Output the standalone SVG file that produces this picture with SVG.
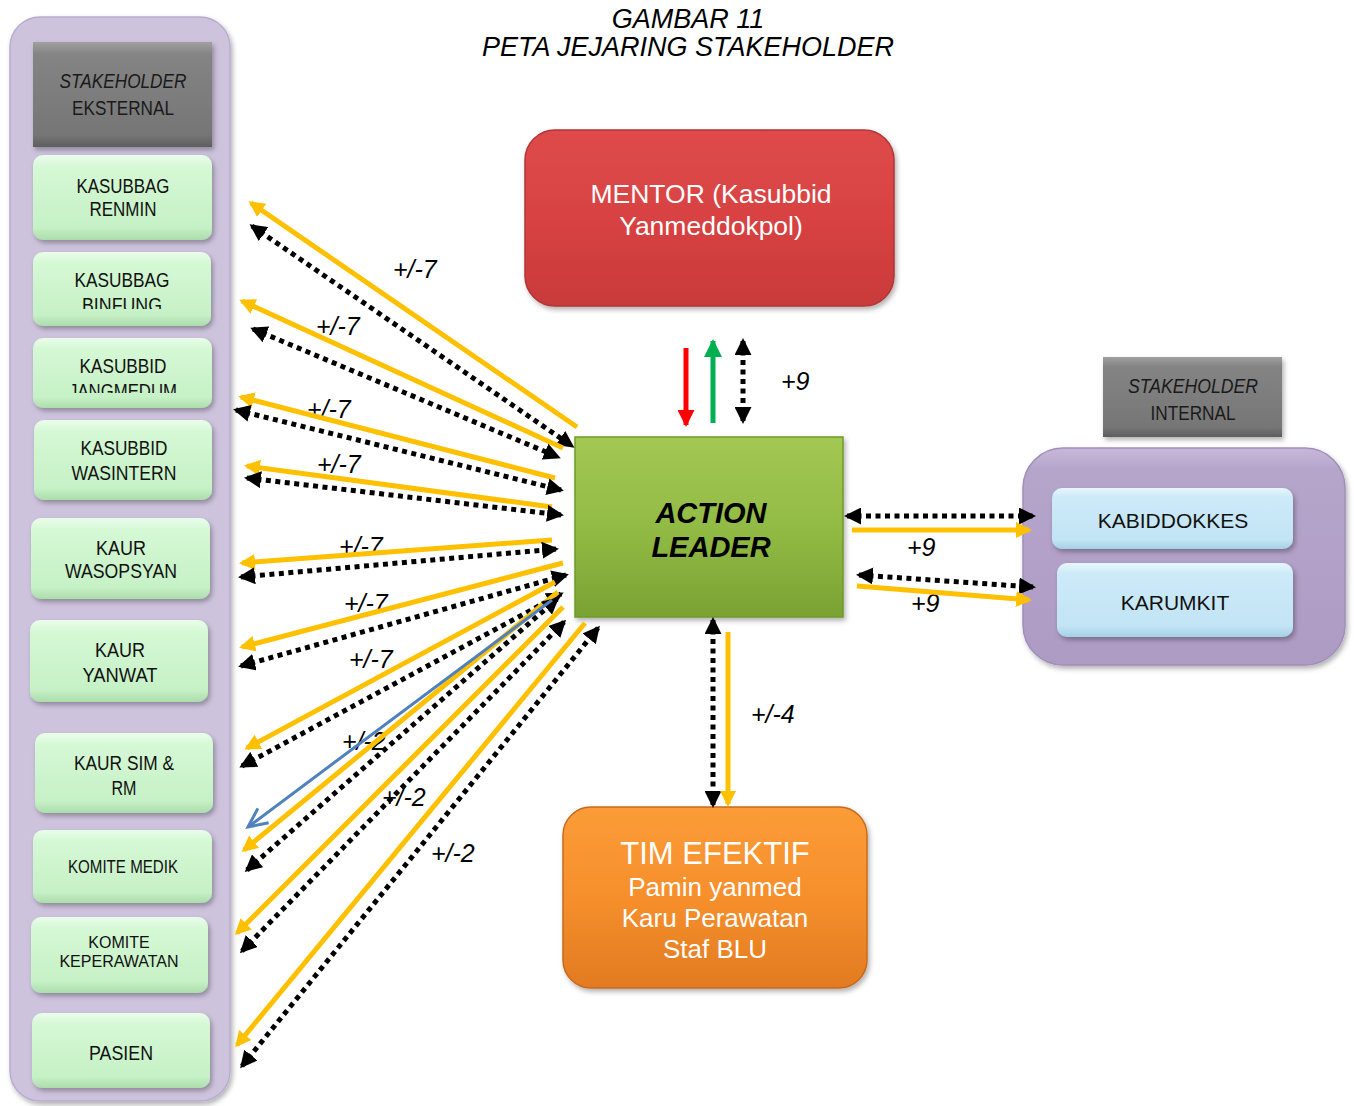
<svg xmlns="http://www.w3.org/2000/svg" width="1354" height="1106" viewBox="0 0 1354 1106">
<style>
.nt{font-family:"Liberation Sans Narrow","Liberation Sans",Arial,sans-serif;font-size:21px;fill:#111;text-anchor:middle}
.ht{font-family:"Liberation Sans Narrow","Liberation Sans",Arial,sans-serif;font-size:20px;fill:#1a1a1a;text-anchor:middle}
.rt{font-family:"Liberation Sans",Arial,sans-serif;font-size:21px;fill:#111;text-anchor:middle}
.wt{font-family:"Liberation Sans",Arial,sans-serif;fill:#fff;text-anchor:middle}
.lb{font-family:"Liberation Sans",Arial,sans-serif;font-size:25px;font-style:italic;fill:#000}
.title{font-family:"Liberation Sans",Arial,sans-serif;font-size:27px;font-style:italic;fill:#000;text-anchor:middle}
.gn{fill:url(#gGreen);filter:url(#sh)}
.gh{fill:url(#gGray);filter:url(#sh)}
.bn{fill:url(#gBlue);filter:url(#sh)}
.y{stroke:#ffc000;stroke-width:5;fill:none;marker-end:url(#hy)}
.d{stroke:#000;stroke-width:5;stroke-dasharray:5 4.5;fill:none;marker-start:url(#hb);marker-end:url(#hb)}
</style>
<defs>
<filter id="sh" x="-10%" y="-10%" width="130%" height="130%"><feDropShadow dx="2" dy="3" stdDeviation="2.5" flood-color="#000" flood-opacity="0.3"/></filter>
<linearGradient id="gGreen" x1="0" y1="0" x2="0" y2="1"><stop offset="0" stop-color="#eafdea"/><stop offset="0.15" stop-color="#d5f8d5"/><stop offset="0.85" stop-color="#c6f1c6"/><stop offset="1" stop-color="#acdcac"/></linearGradient>
<linearGradient id="gGray" x1="0" y1="0" x2="0" y2="1"><stop offset="0" stop-color="#a0a0a0"/><stop offset="0.12" stop-color="#848484"/><stop offset="0.88" stop-color="#767676"/><stop offset="1" stop-color="#5e5e5e"/></linearGradient>
<linearGradient id="gBlue" x1="0" y1="0" x2="0" y2="1"><stop offset="0" stop-color="#e6f6fd"/><stop offset="0.15" stop-color="#cdeaf8"/><stop offset="0.85" stop-color="#c2e4f5"/><stop offset="1" stop-color="#a6d0e6"/></linearGradient>
<linearGradient id="gPurp" x1="0" y1="0" x2="0" y2="1"><stop offset="0" stop-color="#c7b8da"/><stop offset="0.1" stop-color="#b6a5cb"/><stop offset="1" stop-color="#ad9bc4"/></linearGradient>
<linearGradient id="gRed" x1="0" y1="0" x2="0" y2="1"><stop offset="0" stop-color="#de4b4b"/><stop offset="0.5" stop-color="#d84242"/><stop offset="1" stop-color="#c93a3a"/></linearGradient>
<linearGradient id="gAL" x1="0" y1="0" x2="0" y2="1"><stop offset="0" stop-color="#a3c853"/><stop offset="0.5" stop-color="#92bb45"/><stop offset="1" stop-color="#7aa233"/></linearGradient>
<linearGradient id="gOr" x1="0" y1="0" x2="0" y2="1"><stop offset="0" stop-color="#fb9c38"/><stop offset="0.5" stop-color="#f68f2c"/><stop offset="1" stop-color="#e27a22"/></linearGradient>
<marker id="hy" markerUnits="userSpaceOnUse" markerWidth="16" markerHeight="16" viewBox="0 0 16 16" refX="13" refY="8" orient="auto-start-reverse"><path d="M0,0 L16,8 L0,16 z" fill="#ffc000"/></marker>
<marker id="hb" markerUnits="userSpaceOnUse" markerWidth="17" markerHeight="17" viewBox="0 0 17 17" refX="14" refY="8.5" orient="auto-start-reverse"><path d="M0,0 L17,8.5 L0,17 z" fill="#000"/></marker>
<marker id="hr" markerUnits="userSpaceOnUse" markerWidth="17" markerHeight="17" viewBox="0 0 17 17" refX="15" refY="8.5" orient="auto"><path d="M0,0 L17,8.5 L0,17 z" fill="#ff0000"/></marker>
<marker id="hg" markerUnits="userSpaceOnUse" markerWidth="18" markerHeight="18" viewBox="0 0 18 18" refX="16" refY="9" orient="auto"><path d="M0,0 L18,9 L0,18 z" fill="#00b050"/></marker>
<marker id="hbl" markerUnits="userSpaceOnUse" markerWidth="24" markerHeight="22" viewBox="-21 -11 24 22" refX="0" refY="0" orient="auto"><path d="M-19,-9 L0,0 L-19,9" fill="none" stroke="#4f81bd" stroke-width="3"/></marker>
<clipPath id="c2"><rect x="30" y="250" width="185" height="59"/></clipPath>
<clipPath id="c3"><rect x="30" y="335" width="185" height="58"/></clipPath>
</defs>
<rect width="1354" height="1106" fill="#fff"/>

<g id="title">
<text class="title" x="688" y="28">GAMBAR 11</text>
<text class="title" x="688" y="56">PETA JEJARING STAKEHOLDER</text>
</g>

<g id="ext-container">
<rect x="10" y="17" width="220" height="1084" rx="30" fill="#cdc3dd" stroke="#b9acd0" stroke-width="1.5" filter="url(#sh)"/>
</g>
<g id="ext-header">
<rect class="gh" x="33" y="42" width="179" height="105"/>
<text class="ht" x="123" y="88" font-style="italic" textLength="127" lengthAdjust="spacingAndGlyphs">STAKEHOLDER</text>
<text class="ht" x="123" y="115" textLength="102" lengthAdjust="spacingAndGlyphs">EKSTERNAL</text>
</g>
<g id="n-renmin">
<rect class="gn" x="33" y="155" width="179" height="85" rx="10"/>
<text class="nt" x="123" y="193" textLength="93" lengthAdjust="spacingAndGlyphs">KASUBBAG</text>
<text class="nt" x="123" y="216" textLength="67" lengthAdjust="spacingAndGlyphs">RENMIN</text>
</g>
<g id="n-binfung">
<rect class="gn" x="33" y="252" width="178" height="74" rx="10"/>
<g clip-path="url(#c2)">
<text class="nt" x="122" y="287" textLength="95" lengthAdjust="spacingAndGlyphs">KASUBBAG</text>
<text class="nt" x="122" y="312" textLength="80" lengthAdjust="spacingAndGlyphs">BINFUNG</text>
</g>
</g>
<g id="n-jangmedum">
<rect class="gn" x="33" y="338" width="179" height="70" rx="10"/>
<g clip-path="url(#c3)">
<text class="nt" x="123" y="373" textLength="87" lengthAdjust="spacingAndGlyphs">KASUBBID</text>
<text class="nt" x="123" y="398" textLength="108" lengthAdjust="spacingAndGlyphs">JANGMEDUM</text>
</g>
</g>
<g id="n-wasintern">
<rect class="gn" x="34" y="420" width="178" height="80" rx="10"/>
<text class="nt" x="124" y="455" textLength="87" lengthAdjust="spacingAndGlyphs">KASUBBID</text>
<text class="nt" x="124" y="480" textLength="105" lengthAdjust="spacingAndGlyphs">WASINTERN</text>
</g>
<g id="n-wasopsyan">
<rect class="gn" x="31" y="518" width="179" height="81" rx="10"/>
<text class="nt" x="121" y="555" textLength="50" lengthAdjust="spacingAndGlyphs">KAUR</text>
<text class="nt" x="121" y="578" textLength="112" lengthAdjust="spacingAndGlyphs">WASOPSYAN</text>
</g>
<g id="n-yanwat">
<rect class="gn" x="30" y="620" width="178" height="82" rx="10"/>
<text class="nt" x="120" y="657" textLength="50" lengthAdjust="spacingAndGlyphs">KAUR</text>
<text class="nt" x="120" y="682" textLength="75" lengthAdjust="spacingAndGlyphs">YANWAT</text>
</g>
<g id="n-sim">
<rect class="gn" x="35" y="733" width="178" height="80" rx="10"/>
<text class="nt" x="124" y="770" textLength="100" lengthAdjust="spacingAndGlyphs">KAUR SIM &amp;</text>
<text class="nt" x="124" y="795" textLength="25" lengthAdjust="spacingAndGlyphs">RM</text>
</g>
<g id="n-medik">
<rect class="gn" x="33" y="830" width="179" height="73" rx="10"/>
<text class="nt" x="123" y="873" style="font-size:18px" textLength="110" lengthAdjust="spacingAndGlyphs">KOMITE MEDIK</text>
</g>
<g id="n-keperawatan">
<rect class="gn" x="31" y="917" width="177" height="76" rx="10"/>
<text class="rt" x="119" y="948" style="font-size:16px">KOMITE</text>
<text class="rt" x="119" y="967" style="font-size:16px">KEPERAWATAN</text>
</g>
<g id="n-pasien">
<rect class="gn" x="32" y="1013" width="178" height="75" rx="10"/>
<text class="nt" x="121" y="1060" textLength="64" lengthAdjust="spacingAndGlyphs">PASIEN</text>
</g>

<g id="mentor">
<rect x="525" y="130" width="369" height="176" rx="30" fill="url(#gRed)" stroke="#b33535" stroke-width="1.5" filter="url(#sh)"/>
<text class="wt" x="711" y="203" style="font-size:26.5px">MENTOR (Kasubbid</text>
<text class="wt" x="711" y="235" style="font-size:26.5px">Yanmeddokpol)</text>
</g>
<g id="action-leader">
<rect x="575" y="437" width="268" height="180" fill="url(#gAL)" stroke="#6f9a2a" stroke-width="1.5" filter="url(#sh)"/>
<text x="711" y="523" font-family="Liberation Sans,Arial,sans-serif" font-size="29" font-weight="bold" font-style="italic" text-anchor="middle" fill="#000">ACTION</text>
<text x="711" y="557" font-family="Liberation Sans,Arial,sans-serif" font-size="29" font-weight="bold" font-style="italic" text-anchor="middle" fill="#000">LEADER</text>
</g>
<g id="tim-efektif">
<rect x="563" y="807" width="304" height="181" rx="28" fill="url(#gOr)" stroke="#c86b1c" stroke-width="1.5" filter="url(#sh)"/>
<text class="wt" x="715" y="864" style="font-size:31px">TIM EFEKTIF</text>
<text class="wt" x="715" y="896" style="font-size:26px">Pamin yanmed</text>
<text class="wt" x="715" y="927" style="font-size:26px">Karu Perawatan</text>
<text class="wt" x="715" y="958" style="font-size:26px">Staf BLU</text>
</g>

<g id="int-header">
<rect class="gh" x="1103" y="357" width="179" height="80"/>
<text class="ht" x="1193" y="393" font-style="italic" textLength="130" lengthAdjust="spacingAndGlyphs">STAKEHOLDER</text>
<text class="ht" x="1193" y="420" textLength="85" lengthAdjust="spacingAndGlyphs">INTERNAL</text>
</g>
<g id="int-container">
<rect x="1023" y="448" width="322" height="217" rx="40" fill="url(#gPurp)" stroke="#a08fba" stroke-width="1.5" filter="url(#sh)"/>
</g>
<g id="n-kabiddokkes">
<rect class="bn" x="1052" y="488" width="241" height="61" rx="10"/>
<text class="rt" x="1173" y="528">KABIDDOKKES</text>
</g>
<g id="n-karumkit">
<rect class="bn" x="1057" y="563" width="236" height="74" rx="10"/>
<text class="rt" x="1175" y="610">KARUMKIT</text>
</g>

<g id="labels">
<text class="lb" x="393" y="278">+/-7</text>
<text class="lb" x="316" y="335">+/-7</text>
<text class="lb" x="307" y="418">+/-7</text>
<text class="lb" x="317" y="473">+/-7</text>
<text class="lb" x="339" y="555">+/-7</text>
<text class="lb" x="344" y="612">+/-7</text>
<text class="lb" x="349" y="668">+/-7</text>
<text class="lb" x="342" y="750">+/-2</text>
<text class="lb" x="382" y="806">+/-2</text>
<text class="lb" x="431" y="862">+/-2</text>
<text class="lb" x="781" y="390">+9</text>
<text class="lb" x="907" y="556">+9</text>
<text class="lb" x="911" y="612">+9</text>
<text class="lb" x="751" y="723">+/-4</text>
</g>

<g id="connectors">
<line class="y" x1="577" y1="427" x2="251" y2="203"/>
<line class="d" x1="252" y1="226" x2="572" y2="446"/>
<line class="y" x1="563" y1="448" x2="242" y2="301"/>
<line class="d" x1="253" y1="329" x2="558" y2="457"/>
<line class="y" x1="555" y1="478" x2="241" y2="397"/>
<line class="d" x1="236" y1="410" x2="561" y2="490"/>
<line class="y" x1="552" y1="507" x2="247" y2="466"/>
<line class="d" x1="247" y1="478" x2="561" y2="515"/>
<line class="y" x1="552" y1="540" x2="242" y2="563"/>
<line class="d" x1="241" y1="577" x2="556" y2="549"/>
<line class="y" x1="563" y1="563" x2="242" y2="647"/>
<line class="d" x1="241" y1="666" x2="566" y2="575"/>
<line class="y" x1="555" y1="582" x2="247" y2="748"/>
<line class="d" x1="242" y1="766" x2="561" y2="594"/>
<line class="y" x1="558" y1="592" x2="244" y2="850"/>
<line class="d" x1="247" y1="870" x2="557" y2="599"/>
<line class="y" x1="563" y1="607" x2="237" y2="933"/>
<line class="d" x1="242" y1="951" x2="564" y2="622"/>
<line class="y" x1="585" y1="623" x2="237" y2="1045"/>
<line class="d" x1="242" y1="1066" x2="598" y2="628"/>
<line x1="552" y1="600" x2="248" y2="827" stroke="#4f81bd" stroke-width="3" marker-end="url(#hbl)"/>

<line x1="686" y1="348" x2="686" y2="425" stroke="#ff0000" stroke-width="5" marker-end="url(#hr)"/>
<line x1="713" y1="423" x2="713" y2="341" stroke="#00b050" stroke-width="5" marker-end="url(#hg)"/>
<line class="d" x1="743" y1="341" x2="743" y2="421"/>

<line class="d" x1="847" y1="516" x2="1033" y2="516"/>
<line class="y" x1="852" y1="530" x2="1029" y2="530"/>
<line class="d" x1="859" y1="575" x2="1033" y2="587"/>
<line class="y" x1="857" y1="586" x2="1029" y2="600"/>

<line class="d" x1="713" y1="620" x2="713" y2="805"/>
<line class="y" x1="728" y1="632" x2="728" y2="804"/>
</g>
</svg>
